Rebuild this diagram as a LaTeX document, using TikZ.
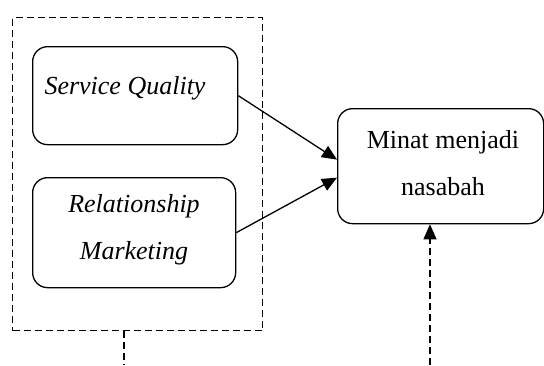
\documentclass[tikz,border=0pt]{standalone}
\usepackage{fontspec}
\setmainfont{Liberation Serif}
\usetikzlibrary{arrows.meta,calc}
\begin{document}
\begin{tikzpicture}[x=1pt,y=-1pt,
  rbox/.style={draw,line width=1.3pt,rounded corners=15pt,inner sep=0pt,anchor=north west},
  dashbox/.style={draw,line width=1.2pt,dash pattern=on 7pt off 4pt,inner sep=0pt,anchor=north west},
  lbl/.style={font=\fontsize{26}{47}\selectfont,align=center,inner sep=0pt},
  conn/.style={line width=1.3pt,-{Triangle[length=15pt,width=13pt]}},
  dconn/.style={line width=1.2pt,dash pattern=on 7pt off 4pt}]
\useasboundingbox (0,0) rectangle (544,365);
\node[dashbox,minimum width=250pt,minimum height=313pt] (outer) at (12,17) {};
\node[rbox,minimum width=205pt,minimum height=98pt] (sq) at (32,46) {};
\node[rbox,minimum width=203pt,minimum height=110pt] (rm) at (32,177) {};
\node[rbox,minimum width=206pt,minimum height=115pt] (min) at (337,108) {};
\node[lbl,font=\fontsize{26}{47}\selectfont\itshape] (sqt) at (125,88) {Service Quality};
\node[lbl,font=\fontsize{26}{47}\selectfont\itshape] (rmt) at (134,230) {Relationship\\Marketing};
\node[lbl] (mint) at (443,163) {Minat menjadi\\nasabah};
\coordinate (d1) at (124,365);
\coordinate (d2) at (430,365);
\draw[conn] (sq.east) -- ($(min.west)+(0,-6.5)$);
\draw[conn] (rm.east) -- ($(min.west)+(0,11.5)$);
\draw[dconn] (d1 |- outer.south) -- (d1);
\draw[dconn,-{Triangle[length=15pt,width=13pt]}] (d2) -- (d2 |- min.south);
\end{tikzpicture}
\end{document}
